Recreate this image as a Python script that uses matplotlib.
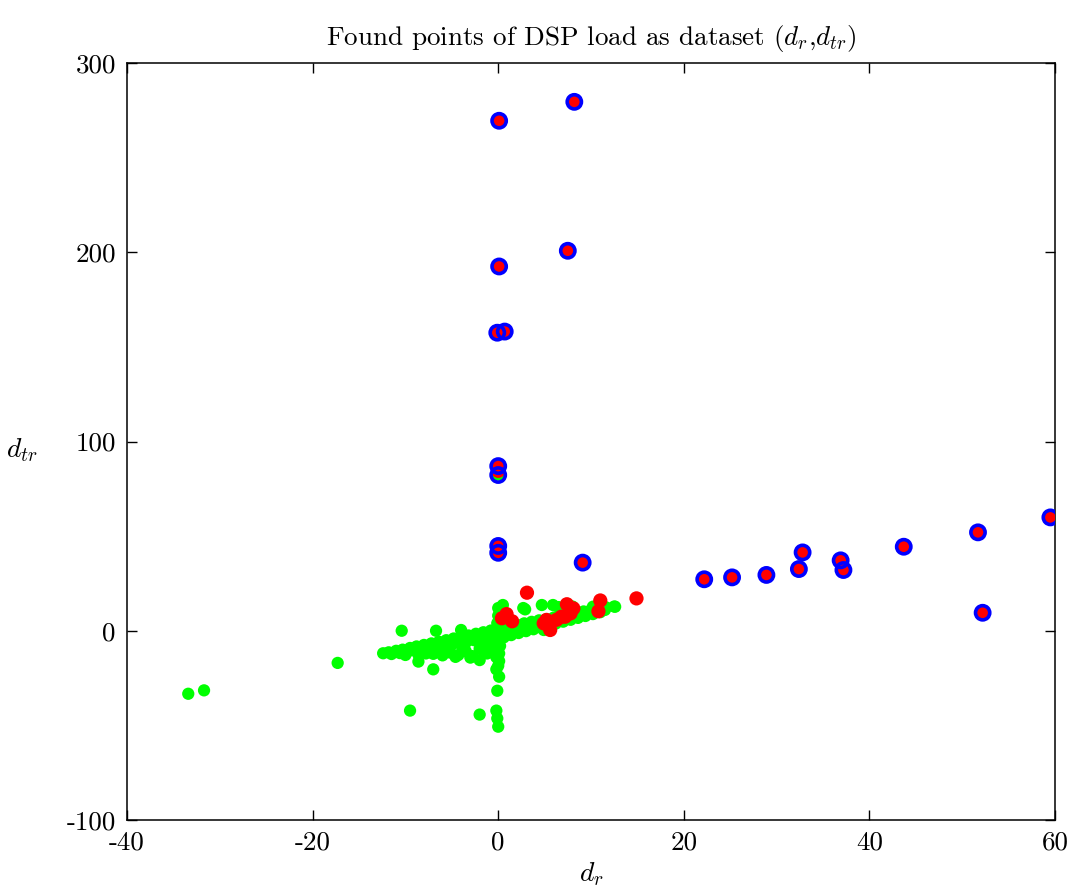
import matplotlib
matplotlib.use('Agg')
import matplotlib.pyplot as plt

plt.rcParams['font.family'] = ['cmr10', 'DejaVu Serif']
plt.rcParams['mathtext.fontset'] = 'cm'
plt.rcParams['axes.unicode_minus'] = False
plt.rcParams['axes.formatter.use_mathtext'] = False

# whole dataset (green)
green_x = [-33.4, -31.7, -17.3, -10.4, -6.7, -4.0, -8.6, -7.0, -9.5, -2.0,
           -0.2, 0.1, -0.1, -0.2, -0.1, 0.0, 0.0,
           -12.4, -11.8, -11.0, -10.3, -9.5, -8.8, -8.0, -7.2, -6.4, -5.6,
           -4.8, -4.0, -3.2, -2.4, -1.6, -0.8, -0.2,
           -11.5, -10.6, -9.8, -9.0, -8.2, -7.4, -6.6, -5.8, -5.0, -4.2,
           -3.4, -2.6, -1.8, -1.0, -0.3,
           -10.0, -8.6, -7.0, -6.0, -5.2, -4.3, -3.5, -2.8, -2.0, -1.2,
           -0.5, -6.8, -3.8, -1.5, -5.5, -7.8, -4.6, -3.0, -2.0,
           0.0, 0.1, -0.2, 0.1, -0.1, 0.2, 0.0, -0.2, 0.1, 0.0, 0.2, -0.1,
           0.1, 0.0, 0.2, 0.0,
           0.5, 1.2, 2.0, 2.8, 3.6, 4.4, 5.2, 6.0, 6.8, 7.6, 8.4, 9.2,
           10.0, 10.8, 11.6, 12.5,
           0.6, 1.4, 2.2, 3.0, 3.8, 4.6, 5.4, 6.2, 7.0, 7.8, 8.6, 9.4,
           10.2, 11.0,
           1.0, 2.5, 4.0, 5.5, 7.0, 8.5, 10.0, 11.5,
           0.5, 2.7, 4.7, 5.9, 10.2, 12.6, 2.9, 6.5, 8.0, 4.9]
green_y = [-33.3, -31.5, -17.0, 0.0, 0.0, 0.4, -16.3, -20.4, -42.2, -44.3,
           -20.4, -24.3, -31.7, -42.2, -46.3, -50.7, 82.5,
           -11.9, -11.4, -10.6, -10.0, -9.1, -8.3, -7.5, -6.7, -5.8, -5.0,
           -4.1, -3.3, -2.5, -1.6, -0.8, 0.1, 1.0,
           -12.3, -11.8, -11.2, -10.5, -10.8, -9.6, -8.8, -8.2, -7.4, -6.6,
           -5.8, -5.0, -4.0, -3.2, -2.2,
           -12.8, -12.6, -12.2, -13.0, -11.5, -12.8, -10.8, -13.4, -9.5, -12.0,
           -8.0, -11.0, -9.0, -7.0, -10.2, -12.0, -13.8, -14.2, -15.5,
           -18.5, -16.0, -14.0, -12.0, -10.0, -8.0, -6.0, -4.0, -2.0, 0.0, 2.0, 4.0,
           6.0, 8.0, 10.0, 12.0,
           1.8, 2.5, 3.2, 3.9, 4.7, 5.5, 6.2, 7.0, 7.8, 8.6, 9.4, 10.2,
           11.0, 11.7, 12.4, 12.8,
           -3.5, -2.3, -1.2, -0.2, 0.8, 1.8, 2.8, 3.8, 4.8, 5.8, 6.8, 7.8,
           8.8, 9.8,
           0.0, 1.2, 2.8, 4.5, 6.3, 8.0, 9.8, 11.0,
           13.6, 12.0, 13.6, 13.6, 12.7, 12.7, 11.3, 12.5, 12.8, 0.4]

# found points (red)
red_x = [0.1, 8.2, 7.5, 0.1, -0.1, 0.7, 0.0, 0.0, 0.0, 0.0, 9.1,
         22.2, 25.2, 28.9, 32.4, 32.8, 36.9, 37.2, 43.7, 51.7, 59.5, 52.2,
         3.1, 14.9, 11.0, 10.8, 0.9, 1.5, 0.4, 7.4, 7.8, 6.8, 5.2, 5.6,
         6.3, 4.9, 8.1, 7.2]
red_y = [269.5, 279.5, 200.8, 192.5, 157.5, 158.1, 87.0, 84.5, 44.8, 41.8, 36.0,
         27.2, 28.2, 29.5, 32.6, 41.4, 37.2, 32.1, 44.4, 52.0, 59.9, 9.5,
         20.1, 17.1, 16.0, 10.3, 8.8, 5.0, 6.6, 14.0, 9.2, 7.4, 5.7, 0.4,
         5.8, 3.9, 11.8, 7.4]

# outliers (blue rings)
blue_x = [0.1, 8.2, 7.5, 0.1, -0.1, 0.7, 0.0, 0.0, 0.0, 0.0, 9.1,
          22.2, 25.2, 28.9, 32.4, 32.8, 36.9, 37.2, 43.7, 51.7, 59.5, 52.2]
blue_y = [269.5, 279.5, 200.8, 192.5, 157.5, 158.1, 87.0, 82.3, 44.8, 41.2, 36.0,
          27.2, 28.2, 29.5, 32.6, 41.4, 37.2, 32.1, 44.4, 52.0, 59.9, 9.5]

fig = plt.figure(figsize=(10.7, 8.88), dpi=100)
ax = fig.add_axes([0.1187, 0.0766, 0.8673, 0.8524])

ax.scatter(green_x, green_y, s=78, c='#00ff00', edgecolors='none', zorder=2)
ax.scatter(red_x, red_y, s=105, c='#ff0000', edgecolors='none', zorder=3)
ax.scatter(blue_x, blue_y, s=105, facecolors='none', edgecolors='#0000ff',
           linewidths=2.6, zorder=4)

ax.set_xlim(-40, 60)
ax.set_ylim(-100, 300)
ax.set_xticks([-40, -20, 0, 20, 40, 60])
ax.set_yticks([-100, 0, 100, 200, 300])
ax.tick_params(direction='in', length=7, width=1, top=True, right=True,
               labelsize=19.5, pad=8)
for sp in ax.spines.values():
    sp.set_linewidth(1.1)

ax.set_xlabel('$d_r$', fontsize=20, labelpad=4)
ax.set_ylabel('$d_{tr}$', fontsize=20, rotation=0, ha='center', va='center')
ax.yaxis.set_label_coords(-0.113, 0.489)
ax.set_title('Found points of DSP load as dataset ($d_r$,$d_{tr}$)',
             fontsize=19.5, pad=13)

fig.savefig('out.png', dpi=100)
